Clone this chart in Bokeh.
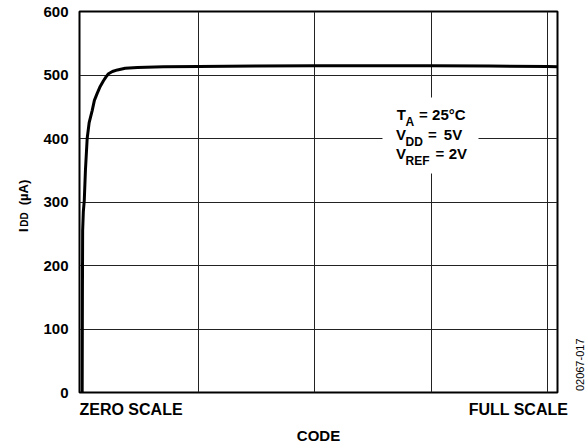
from math import pi
from bokeh.plotting import figure
from bokeh.layouts import row
from bokeh.models import FixedTicker, Label, BoxAnnotation, Range1d
from bokeh.embed import file_html
from bokeh.resources import INLINE

# ---- data ----
code = [0, 2, 4, 10, 18, 28, 43, 60, 86, 105, 129, 155, 183, 205, 226, 260,
        303, 370, 475, 700, 1000, 1500, 2000, 2500, 3000, 3500, 4000, 4095]
idd = [0, 150, 255, 285, 302, 350, 400, 425, 444, 460, 471, 482, 491, 497, 502,
       505.5, 508, 510.5, 512, 513, 513.5, 514, 514.5, 514.5, 514.5, 514, 513.5, 513]
y_ticks = [0, 100, 200, 300, 400, 500, 600]
x_grid = [1000, 2000, 3000, 4000]
x_labels = ["ZERO SCALE", "FULL SCALE"]
x_title = "CODE"
y_title = ["I", "DD", "(µA)"]
note_id = "02067-017"

X0, X1 = -23, 4086
Y0, Y1 = 0, 600
FONT = "Liberation Sans"
H = 448
W_L, W_R = 36, 18
W_M = 587 - W_L - W_R

# page-pixel frame of the main plot
FL, FR, FT, FB = 79, 557, 11, 392
def dx(px):
    return X0 + (px - FL) / (FR - FL) * (X1 - X0)
def dy(py):
    return Y0 + (FB - py) / (FB - FT) * (Y1 - Y0)

def mklabel(x, y, text, size, align="center", bold=True, angle=0.0):
    # anchored at the middle of the text line (cap centre)
    return Label(x=x, y=y, text=text, text_font=FONT, text_font_size=f"{size}px",
                 text_font_style="bold" if bold else "normal",
                 text_align=align, text_baseline="middle",
                 angle=angle, text_color="black")

def text_panel(width):
    # frames of plots in a row are aligned with the main frame (top 11, bottom 392)
    f = figure(width=width, height=H, x_range=Range1d(0, width), y_range=Range1d(Y0, Y1),
               output_backend="svg", toolbar_location=None, title=None,
               x_axis_location=None, y_axis_location=None,
               min_border=0, min_border_left=0, min_border_right=0,
               min_border_top=FT, min_border_bottom=H - FB)
    f.grid.visible = False
    f.outline_line_color = None
    f.background_fill_color = "white"
    f.border_fill_color = "white"
    return f

# ---- main plot ----
p = figure(width=W_M, height=H, x_range=Range1d(X0, X1), y_range=Range1d(Y0, Y1),
           output_backend="svg", toolbar_location=None, title=None,
           min_border_left=FL - W_L, min_border_right=W_L + W_M - FR,
           min_border_top=FT, min_border_bottom=H - FB)

zs_tick = int(round(dx(FL + 103.1 / 2)))
fs_tick = int(round(dx(567.7 - 99.6 / 2)))
p.xaxis.ticker = FixedTicker(ticks=[zs_tick, fs_tick])
p.xaxis.major_label_overrides = {zs_tick: x_labels[0], fs_tick: x_labels[1]}
p.xgrid.ticker = FixedTicker(ticks=x_grid)
p.yaxis.ticker = FixedTicker(ticks=y_ticks)
p.ygrid.ticker = FixedTicker(ticks=y_ticks)

for ax in (p.xaxis, p.yaxis):
    ax.axis_line_color = None
    ax.major_tick_line_color = None
    ax.minor_tick_line_color = None
    ax.major_tick_out = 0
    ax.major_tick_in = 0
    ax.major_label_text_font = FONT
    ax.major_label_text_font_style = "bold"
    ax.major_label_text_color = "black"

p.yaxis.major_label_standoff = 11
p.yaxis.major_label_text_font_size = "15px"
p.xaxis.major_label_standoff = 8
p.xaxis.major_label_text_font_size = "16px"
p.xaxis.axis_label = x_title
p.xaxis.axis_label_text_font = FONT
p.xaxis.axis_label_text_font_size = "15px"
p.xaxis.axis_label_text_font_style = "bold"
p.xaxis.axis_label_text_color = "black"
p.xaxis.axis_label_standoff = 6

p.grid.grid_line_color = "#222222"
p.grid.grid_line_width = 1
p.grid.grid_line_alpha = 1.0
p.outline_line_color = "black"
p.outline_line_width = 2
p.outline_line_alpha = 1.0
p.background_fill_color = "white"
p.border_fill_color = "white"

p.line(code, idd, line_color="black", line_width=3, line_join="round", line_cap="round")

# white box behind the conditions note
p.add_layout(BoxAnnotation(left=dx(382), right=dx(478), top=dy(97), bottom=dy(173),
                           fill_color="white", fill_alpha=1.0, line_color=None))

def note(px, py, text, size, align="center"):
    p.add_layout(mklabel(dx(px), dy(py), text, size, align=align))

rows = [(114.3, "T", "A", 422.8, 448.3, "25°C"),
        (134.3, "V", "DD", 432.0, 452.5, "5V"),
        (153.3, "V", "REF", 439.5, 457.3, "2V")]
for cy, main, sub, eq_x, val_x, val in rows:
    note(405.5, cy, main, 15, "right")
    note(405.0, cy + 7, sub, 12, "left")
    note(eq_x, cy, "=", 15)
    note(val_x, cy, val, 15)

# ---- left strip: y title  I_DD (µA) ----
pl = text_panel(W_L)
pl.add_layout(mklabel(22.6, dy(229.8), y_title[0], 13, angle=pi / 2))
pl.add_layout(mklabel(24.2, dy(219.0), y_title[1], 10, angle=pi / 2))
pl.add_layout(mklabel(22.6, dy(192.0), y_title[2], 13, angle=pi / 2))

# ---- right strip: figure id ----
pr = text_panel(W_R)
pr.add_layout(mklabel(579 - (W_L + W_M), dy(364.3), note_id, 11, bold=False, angle=pi / 2))

layout = row(pl, p, pr, spacing=0)
open("out.html", "w").write(file_html(layout, INLINE))
